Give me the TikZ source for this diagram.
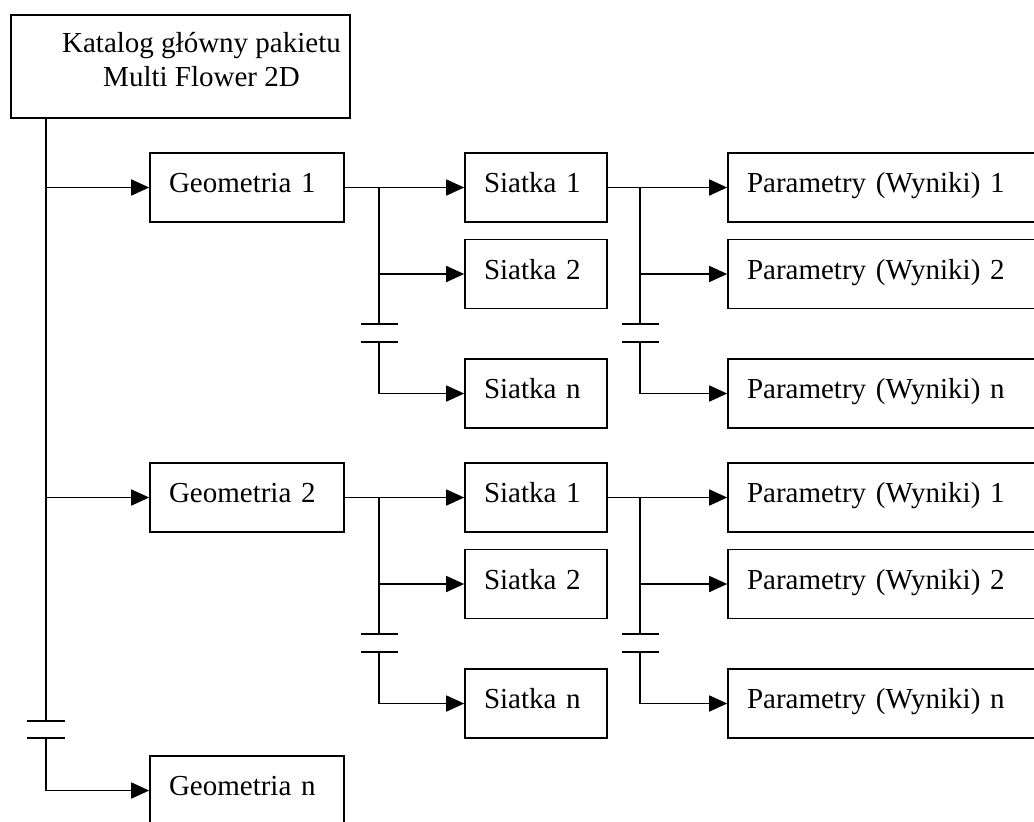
\documentclass[tikz,border=0pt]{standalone}
\usepackage{fontspec}
\setmainfont{Liberation Serif}
\usetikzlibrary{arrows.meta,positioning,calc}
\tikzset{
  line/.style = {line width = 0.8pt},
  conn/.style = {line, -{Triangle[length = 9pt, width = 8pt]}},
  box/.style = {draw, line, minimum height = 34.5pt, inner xsep = 9.5pt, inner ysep = 0pt,
    text height = 10pt, text depth = 5pt, align = left, font = \fontsize{14.5}{17}\selectfont},
  geobox/.style = {box, text width = 78pt},
  siatkabox/.style = {box, text width = 52pt},
  parambox/.style = {box, text width = 137pt},
  rootlabel/.style = {align = center, xshift = 10.5pt, yshift = 3.25pt, font = \fontsize{14.5}{17}\selectfont}
}
\begin{document}
\begin{tikzpicture}[x = 0.5pt, y = -0.5pt]
    \path[use as bounding box, clip] (0,0) rectangle (1034,821);
    \node[draw, line, minimum width = 169.5pt, minimum height = 51.5pt,
      label = {[rootlabel]center:Katalog główny pakietu\\Multi Flower 2D}] (root) at (180.5,66.5) {};
    \coordinate (tr) at (46,118);
    \foreach \g/\dy in {1/0, 2/310} {
      \node[geobox] (geo\g) at (247,187.5+\dy) {Geometria \g};
      \foreach \r/\ry in {1/0, 2/86.5, n/206} {
        \node[siatkabox] (s\g-\r) at (536,187.5+\dy+\ry) {Siatka \r};
        \node[parambox] (p\g-\r) at (884,187.5+\dy+\ry) {Parametry (Wyniki) \r};
      }
      \draw[conn] (tr |- geo\g.west) -- (geo\g.west);
      % siatki
      \draw[conn] (geo\g.east) -- (s\g-1.west);
      \coordinate (sb\g) at (379,187.5+\dy);
      \coordinate (sbu\g) at (379,324+\dy);
      \draw[line] (sb\g) -- (sbu\g);
      \draw[line] (sbu\g) ++(-18.5,0) -- ++(37,0);
      \draw[line] (sbu\g) ++(-18.5,18) -- ++(37,0);
      \draw[conn] (sb\g |- s\g-2.west) -- (s\g-2.west);
      \draw[conn] (sbu\g) ++(0,18) |- (s\g-n.west);
      % parametry
      \draw[conn] (s\g-1.east) -- (p\g-1.west);
      \coordinate (pb\g) at (640,187.5+\dy);
      \coordinate (pbu\g) at (640,324+\dy);
      \draw[line] (pb\g) -- (pbu\g);
      \draw[line] (pbu\g) ++(-18.5,0) -- ++(37,0);
      \draw[line] (pbu\g) ++(-18.5,18) -- ++(37,0);
      \draw[conn] (pb\g |- p\g-2.west) -- (p\g-2.west);
      \draw[conn] (pbu\g) ++(0,18) |- (p\g-n.west);
    }
    \node[geobox] (geon) at (247,790.5) {Geometria n};
    % trunk
    \coordinate (trb) at (46,721);
    \draw[line] (tr) -- (trb);
    \draw[line] (trb) ++(-19,0) -- ++(38,0);
    \draw[line] (trb) ++(-19,17) -- ++(38,0);
    \draw[conn] (trb) ++(0,17) |- (geon.west);
\end{tikzpicture}
\end{document}
